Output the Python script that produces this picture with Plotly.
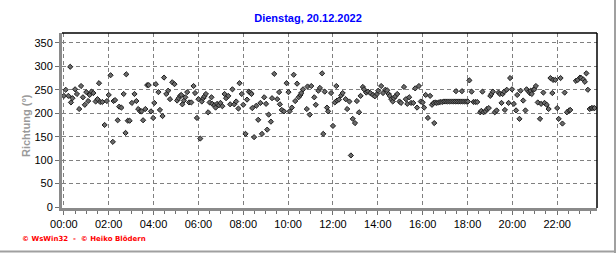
import plotly.graph_objects as go

# ---------------- data ----------------
day = "2022-12-20"
times = [
 "00:00","00:05","00:12","00:17","00:19","00:23","00:30","00:35","00:41","00:46","00:51","00:56",
 "01:00","01:05","01:09","01:14","01:19","01:25","01:30","01:34","01:37","01:43","01:49","01:55",
 "02:00","02:05","02:11","02:13","02:17","02:24","02:28","02:34","02:40","02:45","02:47","02:51","02:56",
 "03:02","03:09","03:14","03:19","03:24","03:28","03:32","03:38","03:43","03:47","03:53","03:59",
 "04:02","04:06","04:13","04:17","04:24","04:28","04:34","04:39","04:44","04:50","04:56",
 "05:03","05:07","05:11","05:14","05:17","05:21","05:25","05:30","05:35","05:41","05:47","05:51","05:56",
 "06:00","06:05","06:09","06:13","06:16","06:20","06:26","06:30","06:35","06:37","06:43","06:46","06:50","06:55","06:59",
 "07:04","07:10","07:14","07:20","07:25","07:31","07:36","07:41","07:47","07:50","07:56",
 "08:00","08:06","08:10","08:15","08:19","08:22","08:24","08:29","08:35","08:40","08:46","08:50","08:56",
 "09:01","09:04","09:08","09:14","09:17","09:23","09:31","09:36","09:38","09:43","09:49","09:56",
 "10:01","10:04","10:10","10:15","10:19","10:24","10:28","10:33","10:35","10:40","10:50","10:52","10:58",
 "11:02","11:10","11:14","11:21","11:25","11:31","11:34","11:38","11:44","11:47","11:55",
 "12:00","12:05","12:09","12:11","12:16","12:22","12:26","12:34","12:38","12:44","12:48","12:53","12:59",
 "13:04","13:10","13:14","13:20","13:23","13:29","13:34","13:40","13:47","13:52","13:58",
 "14:01","14:09","14:14","14:20","14:25","14:29","14:32","14:36","14:40","14:43","14:47","14:52","14:58",
 "15:02","15:10","15:15","15:19","15:24","15:29","15:35","15:40","15:45","15:50","15:55",
 "16:00","16:04","16:08","16:14","16:20","16:25","16:29","16:31","16:34",
 "16:38","16:43","16:47","16:52","16:57","17:02","17:07","17:12","17:17","17:22","17:27","17:32",
 "17:37","17:42","17:47","17:52","17:57","18:01",
 "17:29","17:45","18:05","18:11","18:16","18:21","18:26",
 "18:34","18:37","18:40","18:43","18:48","18:52","18:57",
 "19:01","19:04","19:08","19:13","19:18","19:23","19:27","19:31","19:34","19:38","19:40","19:45","19:50","19:54","19:59",
 "20:04","20:10","20:13","20:19","20:22","20:29","20:35","20:38","20:44","20:47","20:49","20:52","20:56","20:59",
 "21:03","21:08","21:14","21:17","21:23","21:26","21:32","21:37","21:42","21:47","21:49","21:55",
 "22:00","22:04","22:09","22:14","22:20","22:26","22:32","22:35","22:50","22:55",
 "23:01","23:04","23:10","23:14","23:18","23:22","23:27","23:32","23:36","23:40",
]
richtung = [
 237,250,237,299,223,232,251,241,209,258,234,218,
 245,226,239,246,243,225,230,264,224,224,175,226,
 239,281,139,226,228,185,214,212,241,158,283,184,184,
 222,241,226,209,204,204,185,209,260,260,204,190,
 222,262,245,207,194,276,241,248,230,266,262,
 227,232,237,239,219,227,234,245,223,223,258,243,190,
 230,146,225,232,236,241,202,223,234,220,217,212,220,217,222,
 215,241,232,237,219,251,219,225,210,264,241,
 218,156,229,246,244,241,211,149,216,186,222,156,234,
 220,165,197,182,232,284,230,245,219,207,204,264,
 245,204,212,282,226,263,234,239,243,251,209,257,197,
 258,234,218,248,254,285,156,246,212,204,243,
 173,223,258,227,229,238,243,230,209,225,110,188,179,
 226,202,237,256,251,244,246,243,239,236,241,
 248,258,243,250,249,241,237,230,225,232,236,241,225,
 222,256,230,220,234,222,222,253,212,258,225,
 223,212,239,190,237,218,222,179,223,
 222,223,224,224,225,225,225,225,225,225,225,225,
 225,225,225,225,225,225,
 247,247,270,246,224,224,224,
 202,205,246,202,204,209,211,
 237,241,246,202,206,244,241,222,241,246,207,250,222,275,251,
 220,206,239,188,248,227,206,251,246,243,248,241,250,251,
 258,223,188,220,244,222,218,209,275,243,271,271,
 211,188,275,178,244,202,206,207,269,271,
 276,275,272,267,285,250,209,211,211,211,
]
y_ticks = [0, 50, 100, 150, 200, 250, 300, 350]
title_text = "Dienstag, 20.12.2022"
y_title = "Richtung (°)"
credit = "© WsWin32  -  © Heiko Blödern"

x_vals = [f"{day} {t}" for t in times]

fig = go.Figure()
fig.add_trace(go.Scatter(
    x=x_vals, y=richtung, mode="markers",
    marker=dict(symbol="diamond", size=4, color="#6a6a6a",
                line=dict(color="#1e1e1e", width=1)),
    hoverinfo="x+y", showlegend=False,
))

W, H = 616, 253
L, R, T, B = 62, 597, 33, 208
pw, ph = R - L, B - T

def px(x):
    return (x - L) / pw

def py(y):
    return (B - y) / ph

fig.update_layout(
    width=W, height=H,
    margin=dict(l=L, r=W - R, t=T, b=H - B, pad=0),
    paper_bgcolor="white", plot_bgcolor="white",
    font=dict(family="Liberation Sans, Arial, sans-serif", size=11, color="black"),
    title=dict(text=f"<b>{title_text}</b>", x=0.5, xanchor="center",
               y=1 - 18 / H, yanchor="middle", yref="container",
               font=dict(size=11, color="#0000ff", family="Liberation Sans, Arial")),
    xaxis=dict(
        type="date",
        range=["2022-12-19 23:55:00", f"{day} 23:46:30"],
        dtick=7200000, tick0=f"{day} 00:00", tickformat="%H:%M",
        showgrid=True, gridcolor="#808080", griddash="4px,3px", gridwidth=1,
        showline=True, linecolor="#8a8a8a", linewidth=3,
        ticks="outside", ticklen=4, tickcolor="#707070", tickwidth=1,
        minor=dict(dtick=1800000, tick0=f"{day} 00:00", ticks="outside", ticklen=3,
                   tickcolor="#707070", showgrid=False),
        tickfont=dict(size=11, color="black"),
        zeroline=False, fixedrange=True,
    ),
    yaxis=dict(
        range=[-2, 371],
        tickvals=y_ticks,
        showgrid=True, gridcolor="#808080", griddash="4px,3px", gridwidth=1,
        showline=True, linecolor="#8a8a8a", linewidth=3,
        ticks="outside", ticklen=4, tickcolor="#707070", tickwidth=1,
        tickfont=dict(size=11, color="black"),
        zeroline=False, fixedrange=True,
    ),
    shapes=[
        dict(type="line", xref="paper", yref="paper", x0=0, x1=1, y0=1, y1=1,
             line=dict(color="black", width=1.5)),
        dict(type="line", xref="paper", yref="paper", x0=1, x1=1, y0=0, y1=1,
             line=dict(color="black", width=1.5)),
        dict(type="line", xref="paper", yref="paper", x0=px(0), x1=px(616),
             y0=py(251.5), y1=py(251.5), line=dict(color="#a0a0a0", width=2)),
        dict(type="line", xref="paper", yref="paper", x0=px(615), x1=px(615),
             y0=py(0), y1=py(253), line=dict(color="#a0a0a0", width=2)),
    ],
    annotations=[
        dict(text=f"<b>{y_title}</b>", xref="paper", yref="paper", x=px(26), y=py(126),
             xanchor="center", yanchor="middle", textangle=-90, showarrow=False,
             font=dict(size=11, color="#9a9a9a", family="Liberation Sans, Arial")),
        dict(text=f"<b>{credit}</b>", xref="paper", yref="paper", x=px(20), y=py(239),
             xanchor="left", yanchor="middle", showarrow=False,
             font=dict(size=7, color="#ff0000", family="DejaVu Sans, Arial")),
    ],
)

fig.write_html("out.html")
